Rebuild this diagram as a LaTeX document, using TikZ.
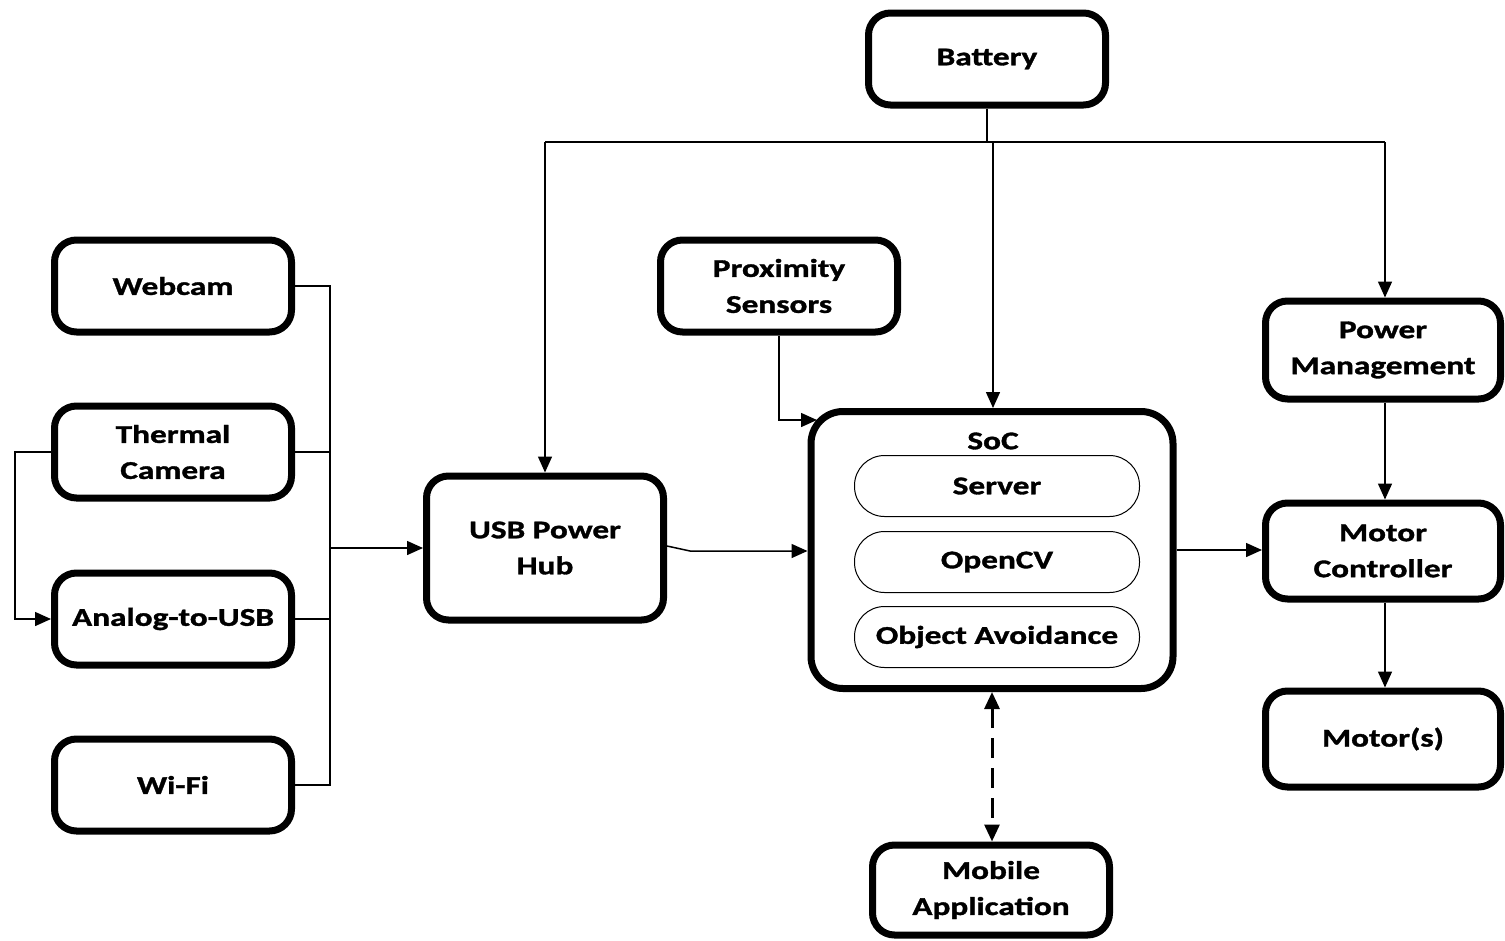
\documentclass[tikz,border=0pt]{standalone}
\usepackage{fontspec}
\setmainfont{Carlito}[FakeStretch=1.3,FakeBold=1.3]
\usetikzlibrary{arrows.meta,calc}
\begin{document}
\begin{tikzpicture}[x=1pt,y=-1pt,
  lbl/.style={font=\fontsize{25.6}{36}\selectfont\bfseries},
  block/.style={lbl,draw,line width=7pt,rounded corners=22pt,minimum width=237pt,
    minimum height=92pt,align=center,outer sep=3.5pt,inner sep=0pt},
  pill/.style={lbl,draw,line width=1pt,rounded corners=30pt,minimum width=285pt,
    minimum height=61pt,inner sep=0pt},
  wire/.style={line width=1.5pt},
  link/.style={wire,-{Triangle[length=16pt,width=14pt]}},
  duplex/.style={line width=3pt,dash pattern=on 20pt off 10pt,
    {Triangle[length=17pt,width=15pt]}-{Triangle[length=17pt,width=15pt]}}]
\useasboundingbox (0,0) rectangle (1505,940);

% power source
\node[block] (bat) at (987,59) {Battery};

% camera / network inputs
\node[block] (web)   at (173,286) {Webcam};
\node[block] (therm) at (173,452) {Thermal\\Camera};
\node[block] (ana)   at (173,619) {Analog-to-USB};
\node[block] (wifi)  at (173,785) {Wi-Fi};

% hub and sensors
\node[block,minimum height=144pt] (usb) at (545,548) {USB Power\\Hub};
\node[block] (prox) at (779,286) {Proximity\\Sensors};

% system on chip with its software layers
\node[block,minimum width=362pt,minimum height=277pt,rounded corners=32pt] (soc) at (992,550) {};
\node[lbl] (soclbl) at (993,441) {SoC};
\node[pill] (srv) at (997,486) {Server};
\node[pill] (cv)  at (997,562) {OpenCV};
\node[pill] (oa)  at (997,637) {Object Avoidance};

% drive chain
\node[block,minimum width=235pt,minimum height=98pt] (pm)  at (1383,350) {Power\\Management};
\node[block,minimum width=235pt,minimum height=96pt] (mc)  at (1383,551) {Motor\\Controller};
\node[block,minimum width=235pt,minimum height=96pt] (mot) at (1383,739) {Motor(s)};

% user interface
\node[block,minimum height=90pt] (mob) at (991,890) {Mobile\\Application};

% battery distribution bus
\coordinate (bus) at (987,142);
\coordinate (usbtap) at (545,142);
\coordinate (soctap) at (993,142);
\coordinate (pmtap) at (1385,142);
\draw[wire] (bat.south) -- (bus);
\draw[wire] (usbtap) -- (pmtap);
\draw[link] (usbtap) -- (usbtap |- usb.north);
\draw[link] (soctap) -- (soctap |- soc.north);
\draw[link] (pmtap) -- (pmtap |- pm.north);

% inputs into the hub
\coordinate (lbus) at (330,548);
\draw[wire] (web.east) -| (lbus);
\draw[wire] (wifi.east) -| (lbus);
\draw[wire] (therm.east) -- (therm.east -| lbus);
\draw[wire] (ana.east) -- (ana.east -| lbus);
\draw[link] (lbus) -- (usb.west);

% thermal camera through the converter
\coordinate (loop) at (15,535);
\draw[link] (therm.west) -| (loop) |- (ana.west);

% sensors into the SoC
\coordinate (proxin) at (817,420);
\draw[link] (prox.south) |- (proxin);

% hub into the SoC
\coordinate (kink) at (690,551);
\draw[link] ([yshift=2pt]usb.east) -- (kink) -- (kink -| soc.west);

% control path
\draw[link] (soc.east) -- (soc.east -| mc.west);
\draw[link] (pmtap |- pm.south) -- (pmtap |- mc.north);
\draw[link] (pmtap |- mc.south) -- (pmtap |- mot.north);

% wireless link to the app
\draw[duplex] (soc.south) -- (soc.south |- mob.north);
\end{tikzpicture}
\end{document}
